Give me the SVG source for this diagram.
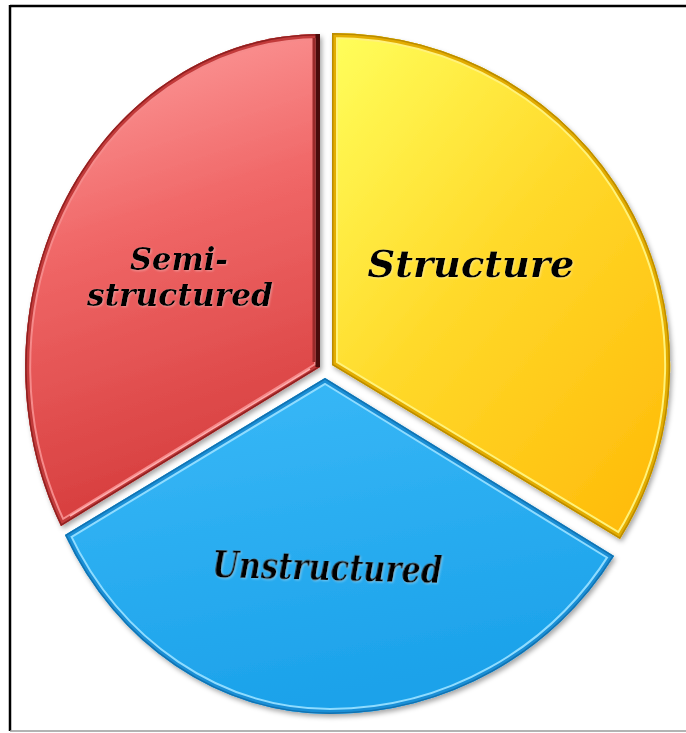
<svg xmlns="http://www.w3.org/2000/svg" width="686" height="733" viewBox="0 0 686 733">
<style>
.lbl{font-family:"DejaVu Serif","Liberation Serif",serif;font-weight:bold;font-style:italic;fill:#000;}
</style>
<defs>
<path id="pRed" d="M320,367 L61,526 A295,333 0 0 1 320,34 Z"/>
<path id="pYel" d="M332,365 L332,33 A338,332 0 0 1 620,539 Z"/>
<path id="pBlu" d="M325,378 L65,535 A300,336 0 0 0 330,714 A335,336 0 0 0 614,556 Z"/>
<clipPath id="cRed"><use href="#pRed"/></clipPath>
<clipPath id="cYel"><use href="#pYel"/></clipPath>
<clipPath id="cBlu"><use href="#pBlu"/></clipPath>
<linearGradient id="gRed" x1="0" y1="0" x2="0.2" y2="1">
<stop offset="0" stop-color="#ffa3a3"/>
<stop offset="0.45" stop-color="#f06767"/>
<stop offset="1" stop-color="#d63d3d"/>
</linearGradient>
<linearGradient id="gYel" x1="0" y1="0" x2="0.8" y2="1">
<stop offset="0" stop-color="#ffff5c"/>
<stop offset="0.5" stop-color="#ffd92a"/>
<stop offset="1" stop-color="#ffbd0c"/>
</linearGradient>
<linearGradient id="gBlu" x1="0" y1="0" x2="0.3" y2="1">
<stop offset="0" stop-color="#3bbaf8"/>
<stop offset="1" stop-color="#1ca2ea"/>
</linearGradient>
<filter id="shadow" x="-10%" y="-10%" width="120%" height="120%">
<feDropShadow dx="2" dy="3" stdDeviation="2.5" flood-color="#000" flood-opacity="0.35"/>
</filter>
<filter id="glow" x="-10%" y="-20%" width="120%" height="140%">
<feDropShadow dx="1" dy="1" stdDeviation="1" flood-color="#fff" flood-opacity="0.35"/>
</filter>
</defs>

<g id="frame">
<line x1="10" y1="6" x2="686" y2="6" stroke="#000" stroke-width="2.5"/>
<line x1="10" y1="5" x2="10" y2="731" stroke="#000" stroke-width="2.5"/>
<line x1="10" y1="731" x2="686" y2="731" stroke="#9a9a9a" stroke-width="1.5"/>
</g>

<g id="slice-semi">
<use href="#pRed" fill="url(#gRed)" filter="url(#shadow)"/>
<g clip-path="url(#cRed)" fill="none">
<use href="#pRed" stroke="#f58a8a" stroke-width="12"/>
<use href="#pRed" stroke="#c23a3a" stroke-width="8"/>
<use href="#pRed" stroke="#8e2020" stroke-width="3"/>
<line x1="320" y1="34" x2="320" y2="367" stroke="#4a0c0c" stroke-width="9"/>
<line x1="314" y1="38" x2="314" y2="362" stroke="#9a2a2a" stroke-width="3"/>
<line x1="70" y1="516" x2="310" y2="369" stroke="#ffb0b0" stroke-width="1.5"/>
</g>
</g>

<g id="slice-structure">
<use href="#pYel" fill="url(#gYel)" filter="url(#shadow)"/>
<g clip-path="url(#cYel)" fill="none">
<use href="#pYel" stroke="#fff27a" stroke-width="12"/>
<use href="#pYel" stroke="#e3ac00" stroke-width="8"/>
<use href="#pYel" stroke="#b98a00" stroke-width="3"/>
</g>
</g>

<g id="slice-unstructured">
<use href="#pBlu" fill="url(#gBlu)" filter="url(#shadow)"/>
<g clip-path="url(#cBlu)" fill="none">
<use href="#pBlu" stroke="#8fdcff" stroke-width="12"/>
<use href="#pBlu" stroke="#1a8fd6" stroke-width="8"/>
<use href="#pBlu" stroke="#1272b0" stroke-width="3"/>
</g>
</g>

<g id="labels" filter="url(#glow)">
<text class="lbl" x="179" y="270" font-size="31" text-anchor="middle" textLength="98" lengthAdjust="spacingAndGlyphs">Semi-</text>
<text class="lbl" x="180" y="306" font-size="31" text-anchor="middle" textLength="186" lengthAdjust="spacingAndGlyphs">structured</text>
<text class="lbl" x="471" y="277" font-size="37" text-anchor="middle" textLength="207" lengthAdjust="spacingAndGlyphs">Structure</text>
<text class="lbl" x="327" y="580" font-size="37" text-anchor="middle" textLength="230" lengthAdjust="spacingAndGlyphs" transform="rotate(1.5 327 580)">Unstructured</text>
</g>
</svg>
